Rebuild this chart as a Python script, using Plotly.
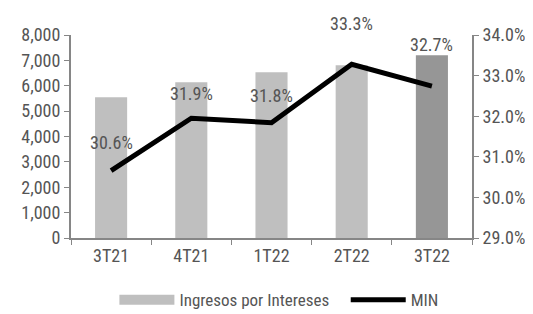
import plotly.graph_objects as go

categories = ["3T21", "4T21", "1T22", "2T22", "3T22"]
ingresos = [5550, 6140, 6530, 6810, 7200]
min_vals = [30.66, 31.95, 31.84, 33.28, 32.74]
min_labels = ["30.6%", "31.9%", "31.8%", "33.3%", "32.7%"]
bar_colors = ["#BFBFBF", "#BFBFBF", "#BFBFBF", "#BFBFBF", "#969696"]
left_ticks = [0, 1000, 2000, 3000, 4000, 5000, 6000, 7000, 8000]
right_ticks = [29, 30, 31, 32, 33, 34]

FONT = "Liberation Sans Narrow, Roboto Condensed, Arial Narrow, sans-serif"
TXT = "#555555"
AX = "#868686"
FS = 18

fig = go.Figure()
fig.add_trace(go.Bar(
    x=categories, y=ingresos, name="Ingresos por Intereses",
    marker=dict(color=bar_colors, line=dict(width=0)), width=0.4,
    showlegend=False,
))
fig.add_trace(go.Scatter(
    x=categories, y=min_vals, name="MIN", yaxis="y2", mode="lines",
    line=dict(color="black", width=5), showlegend=False,
))
# legend entries
fig.add_trace(go.Scatter(x=[None], y=[None], mode="lines",
                         name="Ingresos por Intereses\u2002\u2005",
                         line=dict(color="#BFBFBF", width=10)))
fig.add_trace(go.Scatter(x=[None], y=[None], mode="lines", name="MIN",
                         line=dict(color="black", width=5)))

shifts = [28, 25, 27, 41, 42]
for c, v, t, s in zip(categories, min_vals, min_labels, shifts):
    fig.add_annotation(x=c, y=v, yref="y2", text=t, showarrow=False,
                       yshift=s, font=dict(family=FONT, size=FS, color=TXT))

fig.update_layout(
    width=525, height=306,
    margin=dict(l=63, r=61, t=27, b=76),
    plot_bgcolor="white", paper_bgcolor="white",
    font=dict(family=FONT, size=FS, color=TXT),
    showlegend=True,
    legend=dict(orientation="h", x=0.516, xanchor="center", xref="container",
                y=0.045, yanchor="middle", yref="container",
                font=dict(family=FONT, size=17, color=TXT), itemwidth=55,
                traceorder="normal", entrywidth=0),
    xaxis=dict(showline=True, linecolor=AX, linewidth=2, ticks="outside",
               tickcolor=AX, ticklen=5, tickwidth=1, tickson="boundaries",
               showgrid=False, automargin=False),
    yaxis=dict(range=[0, 8000], tickvals=left_ticks, tickformat=",d",
               showline=True, linecolor=AX, linewidth=2, ticks="outside",
               tickcolor=AX, ticklen=5, showgrid=False, zeroline=False, automargin=False),
    yaxis2=dict(range=[29, 34], tickvals=right_ticks,
                ticktext=[f"{v:.1f}%" for v in right_ticks],
                overlaying="y", side="right", showline=True, linecolor=AX,
                linewidth=2, ticks="outside", tickcolor=AX, ticklen=5,
                showgrid=False, zeroline=False, automargin=False),
)

fig.write_html("out.html")
